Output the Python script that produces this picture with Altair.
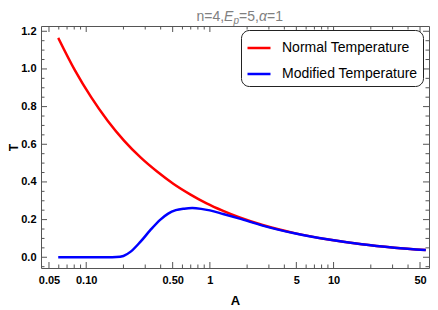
import altair as alt
import pandas as pd

# ---------------- data ----------------
series_names = ["Normal Temperature", "Modified Temperature"]
series_colors = ["#ff0000", "#0000ff"]

A_normal = [0.0594, 0.0807, 0.1096, 0.149, 0.203, 0.275, 0.374, 0.509, 0.692,
            0.94, 1.28, 1.74, 2.67, 4.93, 9.12, 16.9, 31.1, 55.7]
T_normal = [1.165, 0.995, 0.850, 0.725, 0.618, 0.530, 0.455, 0.389, 0.334,
            0.286, 0.246, 0.211, 0.171, 0.127, 0.094, 0.069, 0.051, 0.038]

A_modified = [0.0594, 0.10, 0.15, 0.175, 0.20, 0.229, 0.275, 0.331, 0.398,
              0.46, 0.53, 0.62, 0.72, 0.85, 1.0, 1.28, 1.74, 2.67, 4.93,
              9.12, 16.9, 31.1, 55.7]
T_modified = [0.0, 0.0, 0.0, 0.001, 0.007, 0.030, 0.083, 0.145, 0.200,
              0.232, 0.250, 0.258, 0.261, 0.257, 0.249, 0.230, 0.205, 0.168,
              0.126, 0.094, 0.069, 0.051, 0.038]

x_major = [0.05, 0.1, 0.5, 1, 5, 10, 50]
x_major_labels = ["0.05", "0.10", "0.50", "1", "5", "10", "50"]
x_minor = [0.06, 0.07, 0.08, 0.09, 0.2, 0.3, 0.4, 0.6, 0.7, 0.8, 0.9,
           2, 3, 4, 6, 7, 8, 9, 20, 30, 40]
y_major = [0.0, 0.2, 0.4, 0.6, 0.8, 1.0, 1.2]
y_minor = [-0.05, 0.05, 0.1, 0.15, 0.25, 0.3, 0.35, 0.45, 0.5, 0.55, 0.65,
           0.7, 0.75, 0.85, 0.9, 0.95, 1.05, 1.1, 1.15]

title_regular = ["n=4,", "=5,", "=1"]
title_italic = ["E", "α"]
title_sub = ["p"]

# ---------------- layout / style ----------------
W, H = 388, 242
FRAME = "#555555"
FONT = "Liberation Sans"
MAJ, MIN = 6, 3.5

xscale = alt.Scale(type="log", domain=[0.0431, 59.1], nice=False)
yscale = alt.Scale(domain=[-0.057, 1.228], nice=False, zero=False)
cscale = alt.Scale(domain=series_names, range=series_colors)

label_expr = " : ".join(
    f"datum.value == {v} ? '{l}'" for v, l in zip(x_major, x_major_labels)
) + " : ''"

x_axis = alt.Axis(values=x_major, labelExpr=label_expr, ticks=False,
                  domain=False, grid=False, labelFont=FONT,
                  labelFontSize=11, labelFontWeight="bold",
                  labelColor="black", labelPadding=6,
                  titleFont=FONT, titleFontSize=13,
                  titleFontWeight="bold", titleColor="black",
                  titleY=32, titleBaseline="middle", labelFlush=False)
y_axis = alt.Axis(values=y_major, format=".1f", ticks=False,
                  domain=False, grid=False, labelFont=FONT,
                  labelFontSize=11, labelFontWeight="bold",
                  labelColor="black", labelPadding=5,
                  titleFont=FONT, titleFontSize=12,
                  titleFontWeight="bold", titleColor="black",
                  titleX=-27.5, titleBaseline="middle", labelFlush=False)

df_n = pd.DataFrame({"A": A_normal, "T": T_normal, "series": series_names[0]})
df_m = pd.DataFrame({"A": A_modified, "T": T_modified, "series": series_names[1]})

legend = alt.Legend(
    title=None, orient="none", legendX=200, legendY=4,
    symbolType="stroke", symbolSize=529, symbolStrokeWidth=2.5,
    labelFont=FONT, labelFontSize=14, labelColor="black", labelOffset=10,
    strokeColor="#222222", cornerRadius=8, padding=5, fillColor="white",
    rowPadding=6,
)


def curve(df):
    return alt.Chart(df).mark_line(strokeWidth=2.5, interpolate="monotone").encode(
        x=alt.X("A:Q", scale=xscale, title="A", axis=x_axis),
        y=alt.Y("T:Q", scale=yscale, title="T", axis=y_axis),
        color=alt.Color("series:N", scale=cscale, legend=legend,
                        sort=series_names),
    )


def xticks(vals, length, top):
    return alt.Chart(pd.DataFrame({"v": vals})).mark_rule(
        color=FRAME, strokeWidth=1).encode(
        x=alt.X("v:Q", scale=xscale, title="A", axis=x_axis),
        y=alt.value(0 if top else H),
        y2=alt.value(length if top else H - length),
    )


def yticks(vals, length, right):
    return alt.Chart(pd.DataFrame({"v": vals})).mark_rule(
        color=FRAME, strokeWidth=1).encode(
        y=alt.Y("v:Q", scale=yscale, title="T", axis=y_axis),
        x=alt.value(W if right else 0),
        x2=alt.value(W - length if right else length),
    )


tick_layers = [
    xticks(x_major, MAJ, False), xticks(x_minor, MIN, False),
    xticks(x_major, MAJ, True), xticks(x_minor, MIN, True),
    yticks(y_major, MAJ, False), yticks(y_minor, MIN, False),
    yticks(y_major, MAJ, True), yticks(y_minor, MIN, True),
]

# title pieces: n=4, E_p =5, α =1  (14px)
x0 = 155.5
TY = -9
TCOL = "#808080"
title_pos_regular = [x0, x0 + 42.5, x0 + 70.5]
title_pos_italic = [x0 + 27.6, x0 + 62.4]
title_pos_sub = [x0 + 36.9]

title_layers = []
for s, px in zip(title_regular, title_pos_regular):
    title_layers.append(
        alt.Chart(pd.DataFrame({"t": [s]})).mark_text(
            font=FONT, fontSize=14, color=TCOL, align="left", baseline="middle"
        ).encode(text="t:N", x=alt.value(px), y=alt.value(TY)))
for s, px in zip(title_italic, title_pos_italic):
    title_layers.append(
        alt.Chart(pd.DataFrame({"t": [s]})).mark_text(
            font=FONT, fontSize=14, color=TCOL, align="left", baseline="middle",
            fontStyle="italic"
        ).encode(text="t:N", x=alt.value(px), y=alt.value(TY)))
for s, px in zip(title_sub, title_pos_sub):
    title_layers.append(
        alt.Chart(pd.DataFrame({"t": [s]})).mark_text(
            font=FONT, fontSize=10, color=TCOL, align="left", baseline="middle",
            fontStyle="italic"
        ).encode(text="t:N", x=alt.value(px), y=alt.value(TY + 4)))

chart = alt.layer(*tick_layers, curve(df_n), curve(df_m), *title_layers).properties(
    width=W, height=H,
    autosize=alt.AutoSizeParams(type="none"),
    padding={"left": 33, "top": 18, "right": 1, "bottom": 42},
).configure_view(stroke=FRAME, strokeWidth=1)

chart.save("out.html", embed_options={"renderer": "svg", "actions": False})
